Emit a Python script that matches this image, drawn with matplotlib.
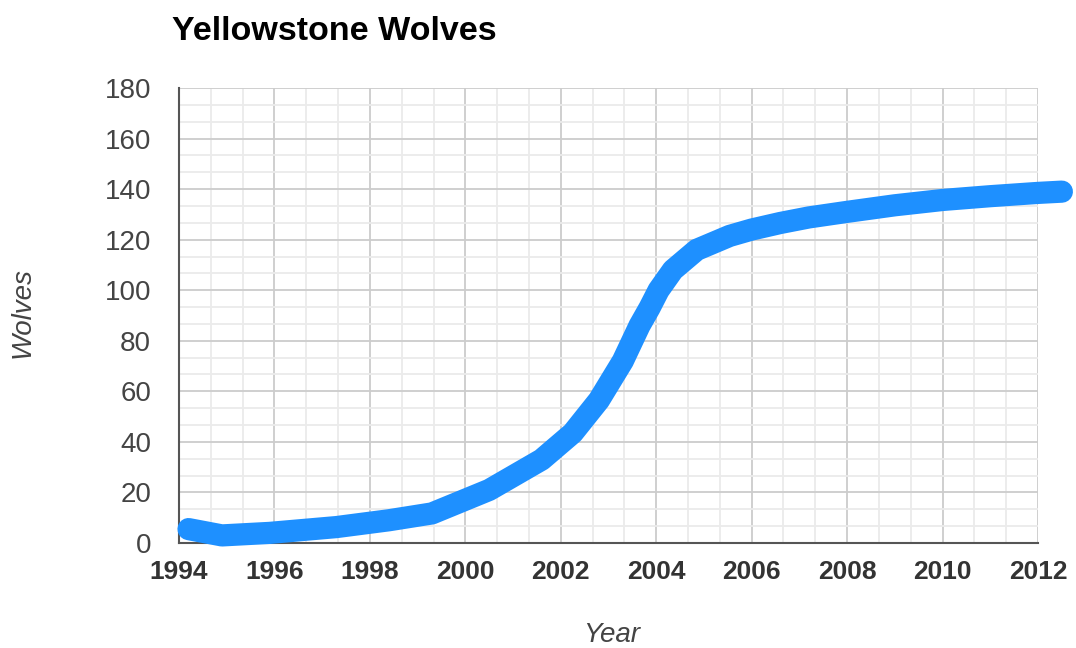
import numpy as np
import matplotlib
matplotlib.use("Agg")
import matplotlib.pyplot as plt
from matplotlib.ticker import MultipleLocator

# ----------------------------------------------------------------------
# DATA
# ----------------------------------------------------------------------
years  = [1994.2, 1994.9, 1995.9, 1997.3, 1998.4, 1999.3, 2000.5, 2001.6,
          2002.25, 2002.8, 2003.3, 2003.65, 2003.86, 2004.05, 2004.35,
          2004.85, 2005.54, 2006.0, 2006.6, 2007.2, 2008.0, 2009.0,
          2010.0, 2011.0, 2012.0, 2012.5]
wolves = [5.5, 3, 4, 6.3, 9, 11.7, 21, 33,
          43.5, 56.5, 72, 86, 93, 100, 108,
          116, 121.5, 124, 126.6, 128.8, 131, 133.6,
          135.7, 137.2, 138.5, 139]

x_ticks = list(range(1994, 2013, 2))
y_ticks = list(range(0, 181, 20))

# ----------------------------------------------------------------------
# PLOT
# ----------------------------------------------------------------------
plt.rcParams["font.family"] = ["Liberation Sans", "DejaVu Sans"]

fig = plt.figure(figsize=(10.76, 6.48), dpi=100)
ax = fig.add_axes([179 / 1076, 1 - 543 / 648, (1038 - 179) / 1076, (543 - 88) / 648])

ax.set_xlim(1994, 2012)
ax.set_ylim(0, 180)
ax.set_xticks(x_ticks)
ax.set_yticks(y_ticks)
ax.xaxis.set_minor_locator(MultipleLocator(2 / 3))
ax.yaxis.set_minor_locator(MultipleLocator(20 / 3))

ax.grid(which="major", color="#cccccc", linewidth=1.3)
ax.grid(which="minor", color="#ebebeb", linewidth=1.3)
ax.set_axisbelow(True)

ax.plot(years, wolves, color="#1e90ff", linewidth=16,
        solid_capstyle="round", solid_joinstyle="round", clip_on=False, zorder=5)

for side in ("top", "right"):
    ax.spines[side].set_visible(False)
for side in ("left", "bottom"):
    ax.spines[side].set_color("#555555")
    ax.spines[side].set_linewidth(1.5)

ax.tick_params(which="both", length=0)
ax.tick_params(axis="y", labelsize=20, labelcolor="#444444", pad=20)
ax.tick_params(axis="x", labelsize=19, labelcolor="#333333", pad=12)
for lbl in ax.get_xticklabels():
    lbl.set_fontweight("bold")

# axis titles and chart title placed in figure pixels
fig.text(612 / 1076, 1 - 635 / 648, "Year", fontsize=20, style="italic",
         color="#444444", ha="center", va="center")
fig.text(23 / 1076, 1 - 313 / 648, "Wolves", fontsize=20, style="italic",
         color="#444444", ha="center", va="center", rotation=90)
fig.text(172 / 1076, 1 - 40 / 648, "Yellowstone Wolves", fontsize=24.5,
         fontweight="bold", color="#000000", ha="left", va="baseline")

fig.savefig("out.png", dpi=100)
